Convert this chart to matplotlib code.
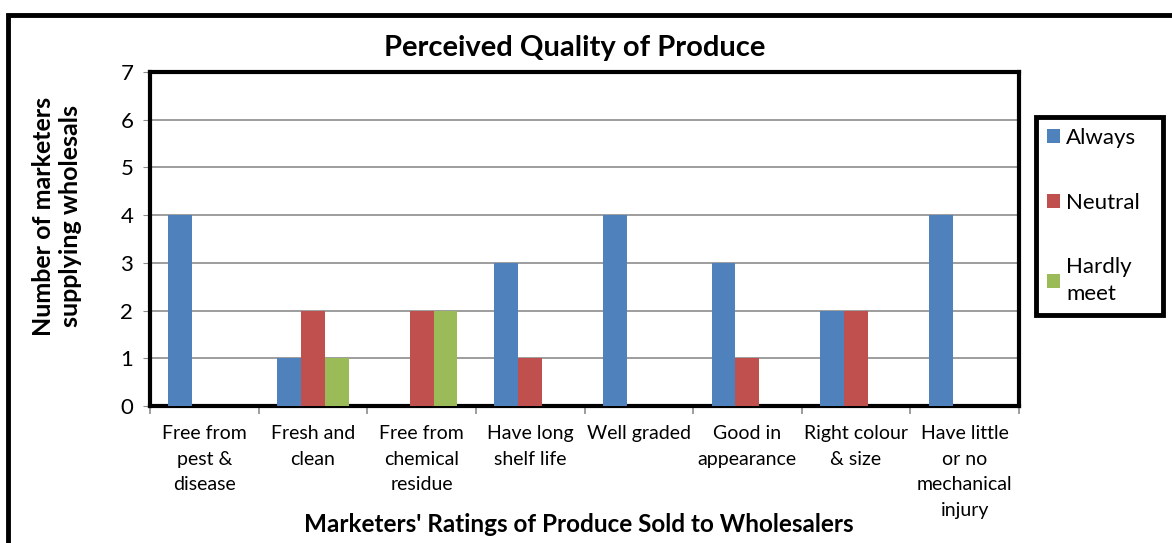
import matplotlib
matplotlib.use("Agg")
import matplotlib.pyplot as plt
import numpy as np
from matplotlib.patches import Rectangle, Patch

categories = ["Free from\npest &\ndisease", "Fresh and\nclean", "Free from\nchemical\nresidue",
              "Have long\nshelf life", "Well graded", "Good in\nappearance",
              "Right colour\n& size", "Have little\nor no\nmechanical\ninjury"]
always = [4, 1, 0, 3, 4, 3, 2, 4]
neutral = [0, 2, 2, 1, 0, 1, 2, 0]
hardly = [0, 1, 2, 0, 0, 0, 0, 0]
series_names = ["Always", "Neutral", "Hardly\nmeet"]
colors = ["#4F81BD", "#C0504D", "#9BBB59"]

plt.rcParams['font.family'] = ['Lato', 'DejaVu Sans']

W, H = 1172, 543
fig = plt.figure(figsize=(W/100, H/100), dpi=100)
ax = fig.add_axes([150/W, 1-406/H, (1019-150)/W, (406-72)/H])

x = np.arange(len(categories))
bw = 0.22
for i, (vals, c) in enumerate(zip([always, neutral, hardly], colors)):
    ax.bar(x + (i-1)*bw, vals, width=bw, color=c, zorder=3)

ax.set_xlim(-0.5, len(categories)-0.5)
ax.set_ylim(0, 7)
ax.set_yticks(range(0, 8))
ax.yaxis.grid(True, color="#8C8C8C", linewidth=1.2, zorder=0)
ax.tick_params(axis='y', labelsize=16, length=5, color="#8C8C8C", pad=7)
ax.set_xticks(x)
ax.set_xticklabels(categories, fontsize=14, linespacing=1.6)
ax.tick_params(axis='x', length=0, pad=14)
ax.set_xticks(np.arange(-0.5, len(categories)), minor=True)
ax.tick_params(axis='x', which='minor', length=6, color="#8C8C8C", width=1.2)
for s in ax.spines.values():
    s.set_color("black")
    s.set_linewidth(3)

fig.text(575/W, 1-48/H, "Perceived Quality of Produce", ha='center', va='center',
         fontsize=21, fontweight='bold')
fig.text(57/W, 1-216/H, "Number of marketers\nsupplying wholesals", ha='center', va='center',
         rotation=90, fontsize=18, fontweight='bold', linespacing=1.25)
fig.text(579/W, 1-525/H, "Marketers' Ratings of Produce Sold to Wholesalers", ha='center',
         va='center', fontsize=17.5, fontweight='bold')

handles = [Patch(facecolor=c, edgecolor='none') for c in colors]
x0, x1, y0, y1 = 1036, 1163, 117, 312
leg = fig.legend(handles, series_names, loc='upper left', mode='expand',
                 bbox_to_anchor=(x0/W, 1-y1/H, (x1-x0)/W, (y1-y0)/H), fontsize=16,
                 frameon=True, fancybox=False, framealpha=1, handlelength=0.6,
                 handleheight=0.6, handletextpad=0.25, labelspacing=2.0,
                 borderpad=0.5, borderaxespad=0)
leg.get_texts()[2].set_linespacing(1.45)
leg.get_frame().set_edgecolor("black")
leg.get_frame().set_linewidth(3.5)

fig.patches.append(Rectangle((8/W, -0.1), 1.2, 1-15/H+0.1, transform=fig.transFigure,
                             fill=False, edgecolor='black', linewidth=3.5, clip_on=False))

fig.savefig("out.png", dpi=100)
